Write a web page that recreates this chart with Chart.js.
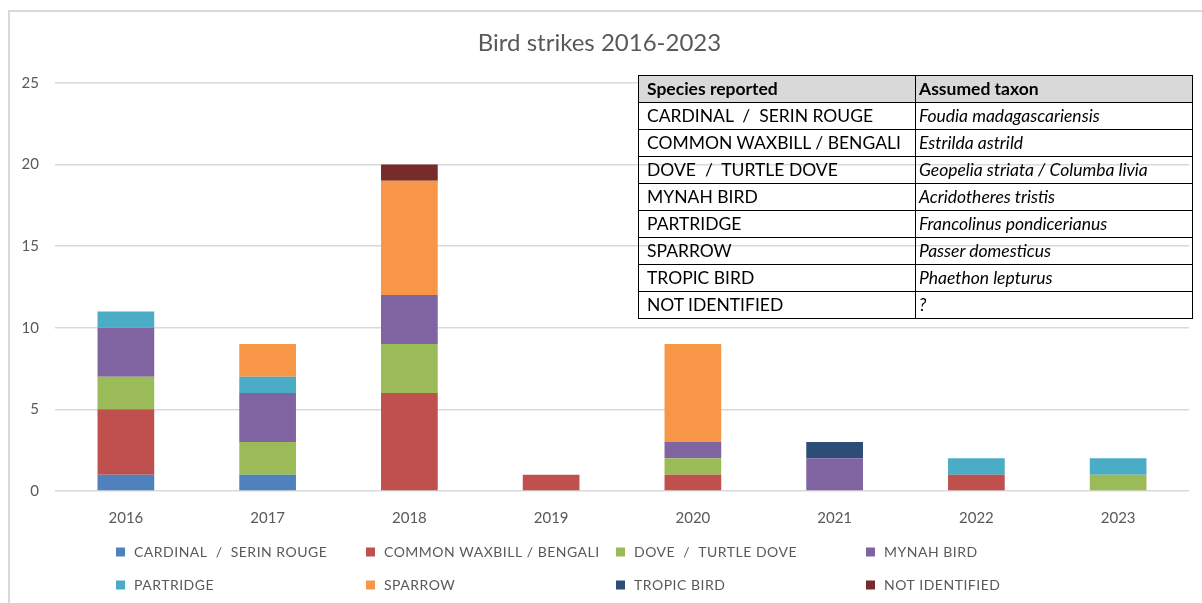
<!DOCTYPE html>
<html>
<head>
<meta charset="utf-8">
<title>Bird strikes 2016-2023</title>
<script src="https://cdn.jsdelivr.net/npm/chart.js@4"></script>
<style>
  html, body { margin: 0; padding: 0; background: #fff; }
  body { width: 1202px; height: 603px; position: relative; overflow: hidden; }
  #frame { position: absolute; left: 8px; top: 10px; width: 1300px; height: 700px;
           border-left: 2px solid #d9d9d9; border-top: 2px solid #d9d9d9; }
  #wrap { position: absolute; left: 0; top: 0; width: 1202px; height: 603px; }
  #taxa { position: absolute; left: 638px; top: 75px; width: 555px; border-collapse: collapse;
          font-family: Lato, "Open Sans", sans-serif; font-size: 17.5px; color: #000; }
  #taxa td, #taxa th { border: 1.5px solid #000; height: 26px; padding: 0 0 0 8px; text-align: left;
          white-space: pre; line-height: 20px; }
  #taxa th { background: #d9d9d9; font-weight: bold; }
  #taxa td:nth-child(2) { font-style: italic; padding-left: 3px; }
  #taxa th:nth-child(2) { padding-left: 3px; }
</style>
</head>
<body>
<div id="frame"></div>
<div id="wrap"><canvas id="strikeChart" width="1202" height="603"></canvas></div>
<table id="taxa"></table>
<script>
// yearly bird strike counts, stacked by species
const years = ['2016', '2017', '2018', '2019', '2020', '2021', '2022', '2023'];
const species = ['CARDINAL  /  SERIN ROUGE', 'COMMON WAXBILL / BENGALI', 'DOVE  /  TURTLE DOVE', 'MYNAH BIRD',
                 'PARTRIDGE', 'SPARROW', 'TROPIC BIRD', 'NOT IDENTIFIED'];
const taxa = ['Foudia madagascariensis', 'Estrilda astrild', 'Geopelia striata / Columba livia',
              'Acridotheres tristis', 'Francolinus pondicerianus', 'Passer domesticus',
              'Phaethon lepturus', '?'];
const colors = ['#4f81bd', '#c0504d', '#9bbb59', '#8064a2', '#4bacc6', '#f79646', '#2c4d75', '#772c2a'];

const cardinal  = [1, 1, 0, 0, 0, 0, 0, 0];
const waxbill   = [4, 0, 6, 1, 1, 0, 1, 0];
const dove      = [2, 2, 3, 0, 1, 0, 0, 1];
const mynah     = [3, 3, 3, 0, 1, 2, 0, 0];
const partridge = [1, 1, 0, 0, 0, 0, 1, 1];
const sparrow   = [0, 2, 7, 0, 6, 0, 0, 0];
const tropic    = [0, 0, 0, 0, 0, 1, 0, 0];
const unknown   = [0, 0, 1, 0, 0, 0, 0, 0];
const counts = [cardinal, waxbill, dove, mynah, partridge, sparrow, tropic, unknown];

const yTicks = [0, 5, 10, 15, 20, 25];

// species / taxon lookup table
const table = document.getElementById('taxa');
table.innerHTML = '<tr><th>Species reported</th><th>Assumed taxon</th></tr>' +
  species.map((s, i) => `<tr><td>${s}</td><td>${taxa[i]}</td></tr>`).join('');
table.querySelectorAll('tr').forEach(tr => tr.firstChild.style.width = '268px');

// legend laid out as a fixed 4-column grid under the axis
const gridLegend = {
  id: 'gridLegend',
  afterDraw(chart) {
    const ctx = chart.ctx;
    ctx.save();
    ctx.font = '14px Lato, "Open Sans", sans-serif';
    ctx.letterSpacing = '0.5px';
    ctx.textBaseline = 'middle';
    chart.data.datasets.forEach((ds, i) => {
      const x = 116 + (i % 4) * 250;
      const y = 552 + Math.floor(i / 4) * 33;
      ctx.fillStyle = ds.backgroundColor;
      ctx.fillRect(x, y - 4.5, 9, 9);
      ctx.fillStyle = '#595959';
      ctx.fillText(ds.label, x + 18, y);
    });
    ctx.restore();
  }
};

const axisFont = { family: 'Lato, "Open Sans", sans-serif', size: 15 };

new Chart(document.getElementById('strikeChart'), {
  type: 'bar',
  data: {
    labels: years,
    datasets: species.map((s, i) => ({
      label: s,
      data: counts[i],
      backgroundColor: colors[i],
      borderWidth: 0,
      categoryPercentage: 1,
      barPercentage: 0.4
    }))
  },
  options: {
    responsive: false,
    animation: false,
    layout: { padding: { left: 10, right: 13, top: 0, bottom: 0 } },
    plugins: {
      legend: { display: false },
      tooltip: { enabled: false },
      title: {
        display: true,
        text: 'Bird strikes 2016-2023',
        color: '#595959',
        font: { family: 'Lato, "Open Sans", sans-serif', size: 24, weight: 'normal' },
        padding: { top: 29, bottom: 25 }
      }
    },
    scales: {
      x: {
        stacked: true,
        grid: { display: false },
        border: { display: false },
        ticks: { color: '#595959', font: axisFont, padding: 10 },
        afterFit: s => { s.height = 112; }
      },
      y: {
        stacked: true,
        min: 0,
        max: 25,
        afterBuildTicks: s => { s.ticks = yTicks.map(v => ({ value: v })); },
        grid: { color: '#d9d9d9', lineWidth: 1.5, drawTicks: false },
        border: { display: false },
        ticks: { color: '#595959', font: axisFont, padding: 16 },
        afterFit: s => { s.width = 45; }
      }
    }
  },
  plugins: [gridLegend]
});
</script>
</body>
</html>
